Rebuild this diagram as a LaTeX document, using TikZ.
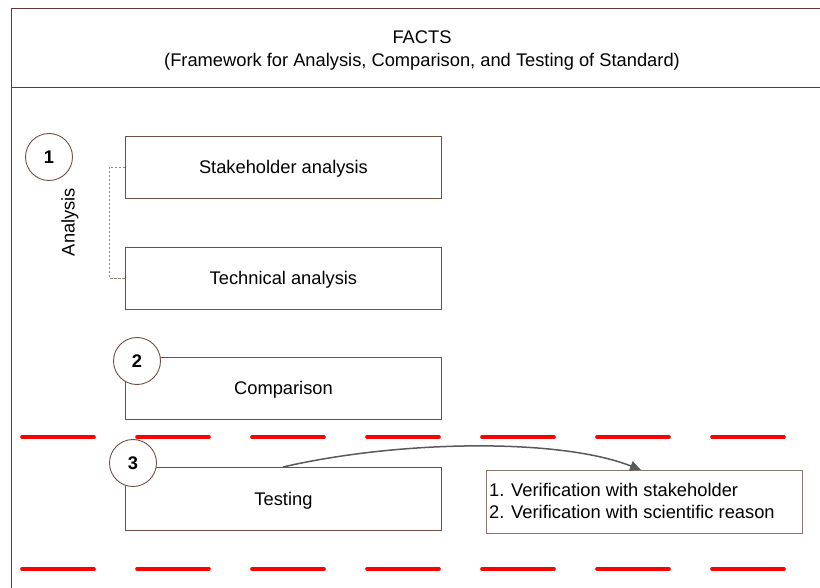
\documentclass[tikz,border=0pt]{standalone}
\usepackage{fontspec}
\setmainfont{Liberation Sans}
\usetikzlibrary{arrows.meta}
\definecolor{brd}{HTML}{5E3A32}
\definecolor{boxc}{HTML}{6E5048}
\definecolor{vbox}{HTML}{8C7872}
\definecolor{arr}{HTML}{595959}
\newcommand{\tfont}{\fontsize{18.3}{22}\selectfont}
\begin{document}
\begin{tikzpicture}[x=1pt,y=-1pt,
  stepbox/.style={draw=boxc,line width=0.9pt,fill=white,minimum width=316pt,minimum height=62pt,anchor=north west},
  numcirc/.style={draw=boxc,line width=0.9pt,fill=white,circle,minimum size=47pt,inner sep=0pt,font=\bfseries\tfont},
  lbl/.style={font=\tfont,yshift=-1.5pt},
  reddash/.style={draw=red,line width=3.6pt,line cap=round,dash pattern=on 72pt off 43pt},
]
\useasboundingbox (0,0) rectangle (820,588);
% frame
\draw[brd,line width=1pt] (820,9) -- (11,9) -- (11,588);
\draw[brd,line width=1pt] (11,88) -- (820,88);
\node[font=\fontsize{18.3}{23}\selectfont,align=center] (title) at (422,50.5) {FACTS\\(Framework for Analysis, Comparison, and Testing of Standard)};
% red dashed lines
\draw[reddash] (22,437) -- (786,437);
\draw[reddash] (22,569) -- (786,569);
% boxes
\node[stepbox] (sa) at (125,136) {};
\node[lbl] at (sa.center) {Stakeholder analysis};
\node[stepbox] (ta) at (125,247) {};
\node[lbl] at (ta.center) {Technical analysis};
\node[stepbox] (cp) at (125,357) {};
\node[lbl] at (cp.center) {Comparison};
\node[stepbox,minimum height=63pt] (ts) at (125,467) {};
\node[lbl] at (ts.center) {Testing};
\node[draw=vbox,line width=0.9pt,fill=white,minimum width=316pt,minimum height=63pt,anchor=north west] (vb) at (486,470) {};
\node[anchor=west,align=left,font=\fontsize{18.3}{22}\selectfont,inner sep=0pt] (vt) at (489,501) {1. Verification with stakeholder\\2. Verification with scientific reason};
% circles
\node[numcirc] (c1) at (49,157) {1};
\node[numcirc] (c2) at (137,361) {2};
\node[numcirc] (c3) at (133,463) {3};
% analysis label
\node[rotate=90,font=\tfont] (al) at (70,222) {Analysis};
% bracket
\coordinate (b1) at (125,167);
\coordinate (b2) at (125,278);
\draw[boxc!70,line width=0.9pt,dash pattern=on 2.5pt off 1.5pt] (b1) -- (109,167) -- (109,278) -- (b2);
% arrow
\coordinate (as) at (283,467);
\coordinate (ae) at (641,470);
\draw[arr,line width=1.5pt,-{Triangle[length=11pt,width=10pt]}] (as) .. controls (400,440) and (560,438) .. (ae);
\end{tikzpicture}
\end{document}
